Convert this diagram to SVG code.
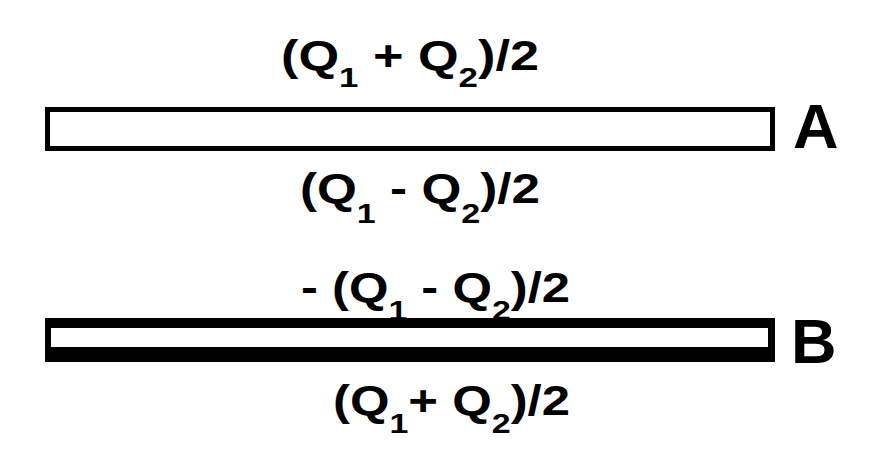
<svg xmlns="http://www.w3.org/2000/svg" width="884" height="452" viewBox="0 0 884 452">
<style>
.t{font-family:"Liberation Sans",Arial,Helvetica,sans-serif;font-weight:bold;font-size:42px;fill:#000}
.s{font-size:28px}
.lbl{font-family:"Liberation Sans",Arial,Helvetica,sans-serif;font-weight:bold;font-size:63px;fill:#000}
</style>
<rect width="884" height="452" fill="#fff"/>
<g id="plateA">
<rect x="47.5" y="109.5" width="725" height="39" fill="#fff" stroke="#000" stroke-width="5"/>
<text class="lbl" x="793" y="148">A</text>
</g>
<g id="plateB">
<rect x="45" y="318" width="730" height="44" fill="#000"/>
<rect x="51" y="328" width="717" height="19" fill="#fff"/>
<text class="lbl" x="791" y="363">B</text>
</g>
<g id="labels">
<text class="t" x="281" y="70" textLength="258" lengthAdjust="spacingAndGlyphs">(Q<tspan class="s" dy="17">1</tspan><tspan dy="-17"> + Q</tspan><tspan class="s" dy="17">2</tspan><tspan dy="-17">)/2</tspan></text>
<text class="t" x="300" y="203" textLength="240" lengthAdjust="spacingAndGlyphs">(Q<tspan class="s" dy="20">1</tspan><tspan dy="-20"> - Q</tspan><tspan class="s" dy="20">2</tspan><tspan dy="-20">)/2</tspan></text>
<text class="t" x="301" y="302" textLength="269" lengthAdjust="spacingAndGlyphs">- (Q<tspan class="s" dy="18">1</tspan><tspan dy="-18"> - Q</tspan><tspan class="s" dy="18">2</tspan><tspan dy="-18">)/2</tspan></text>
<text class="t" x="333" y="415" textLength="237" lengthAdjust="spacingAndGlyphs">(Q<tspan class="s" dy="18">1</tspan><tspan dy="-18">+ Q</tspan><tspan class="s" dy="18">2</tspan><tspan dy="-18">)/2</tspan></text>
</g>
</svg>
